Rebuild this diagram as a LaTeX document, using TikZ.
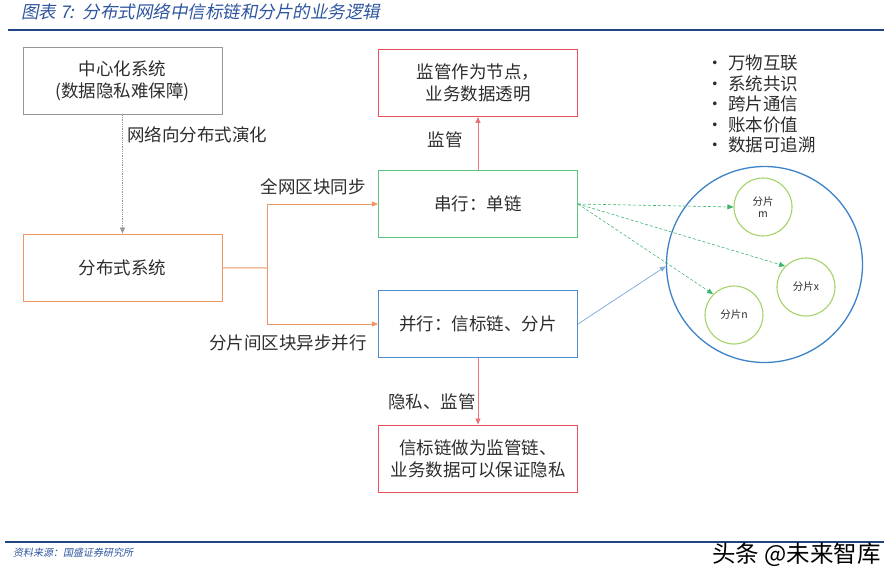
\documentclass[tikz,border=0pt]{standalone}
\usepackage{fontspec}
\setmainfont{Noto Sans CJK SC}
\newfontfamily\titlefont{Noto Sans CJK SC}[FakeSlant=0.2]
\usetikzlibrary{arrows.meta}
\definecolor{txt}{RGB}{45,45,45}
\definecolor{ttl}{RGB}{45,85,160}
\definecolor{rulec}{RGB}{30,70,130}
\definecolor{grayb}{RGB}{150,150,150}
\definecolor{orangeb}{RGB}{240,150,100}
\definecolor{greenb}{RGB}{90,195,125}
\definecolor{blueb}{RGB}{80,140,205}
\definecolor{redb}{RGB}{230,80,90}
\definecolor{shardc}{RGB}{165,210,105}
\definecolor{bigc}{RGB}{60,130,200}
\definecolor{dashg}{RGB}{60,180,110}
\tikzset{
  box/.style={draw, line width=0.9pt, minimum width=199pt, minimum height=67pt, inner sep=2pt, align=center, text=txt, font=\fontsize{17.5}{22}\selectfont},
  lbl/.style={text=txt, inner sep=0pt, font=\fontsize{17.5}{20}\selectfont},
  shard/.style={circle, draw=shardc, line width=1.1pt, minimum size=58pt, inner sep=0pt, align=center, text=txt, font=\fontsize{10.5}{12}\selectfont},
  tip/.style={-{Triangle[length=6pt,width=5pt]}},
}
\begin{document}
\begin{tikzpicture}[x=1pt,y=-1pt]
\useasboundingbox (0,0) rectangle (892,584);
% title and rules
\node[anchor=west, inner sep=0pt, text=ttl, font=\titlefont\fontsize{17.5}{20}\selectfont] (title) at (21,12) {图表 7:\, 分布式网络中信标链和分片的业务逻辑};
\draw[rulec, line width=2.6pt] (8,30) -- (884,30);
\draw[rulec, line width=2pt] (5,542) -- (884,542);
\node[anchor=west, inner sep=0pt, text=ttl, font=\titlefont\fontsize{10}{12}\selectfont] (src) at (13,553) {资料来源：国盛证券研究所};
\node[anchor=east, inner sep=0pt, text=black, font=\fontsize{23.5}{26}\selectfont] (wm) at (881,555) {头条 @未来智库};
% boxes
\node[box, draw=grayb] (cen) at (122.5,81) {中心化系统\\(数据隐私难保障)};
\node[box, draw=orangeb] (dist) at (122.5,267.5) {分布式系统};
\node[box, draw=redb] (top) at (478,83) {监管作为节点，\\业务数据透明};
\node[box, draw=greenb] (ser) at (478,204) {串行：单链};
\node[box, draw=blueb] (par) at (478,324) {并行：信标链、分片};
\node[box, draw=redb] (bot) at (478,458.5) {信标链做为监管链、\\业务数据可以保证隐私};
% labels
\node[lbl, anchor=west] (l1) at (127,135) {网络向分布式演化};
\node[lbl, anchor=east] (l2) at (366,187) {全网区块同步};
\node[lbl, anchor=east] (l3) at (367,343) {分片间区块异步并行};
\node[lbl, anchor=east] (l4) at (463,140) {监管};
\node[lbl, anchor=east] (l5) at (476,402) {隐私、监管};
% bullet list
\foreach \t [count=\i] in {万物互联,系统共识,跨片通信,账本价值,数据可追溯}{
  \node[lbl, anchor=west] (b\i) at (706,{63+20.5*(\i-1)}) {\makebox[22pt][l]{•}\t};
}
% circles
\node[circle, draw=bigc, line width=1.3pt, minimum size=196pt, inner sep=0pt] (big) at (764.5,264.5) {};
\node[shard] (sm) at (763,207) {分片\\m};
\node[shard] (sx) at (806,287) {分片x};
\node[shard] (sn) at (734,315) {分片n};
% connectors
\draw[grayb, densely dotted, line width=0.8pt, tip] (cen) -- (dist);
\coordinate (br) at (267,268);
\draw[orangeb, line width=1pt] (dist) -- (br);
\draw[orangeb, line width=1pt, tip] (br) |- (ser);
\draw[orangeb, line width=1pt, tip] (br) |- (par);
\draw[redb!80, line width=0.8pt, tip] (ser) -- (top);
\draw[redb!80, line width=0.8pt, tip] (par) -- (bot);
\draw[dashg, densely dashed, line width=0.6pt, tip] (ser.east) -- (sm.west);
\draw[dashg, densely dashed, line width=0.6pt, tip] (ser.east) -- (sx.135);
\draw[dashg, densely dashed, line width=0.6pt, tip] (ser.east) -- (sn.135);
\draw[blueb!70, line width=0.8pt, tip] (par.east) -- (big.181);
\end{tikzpicture}
\end{document}
